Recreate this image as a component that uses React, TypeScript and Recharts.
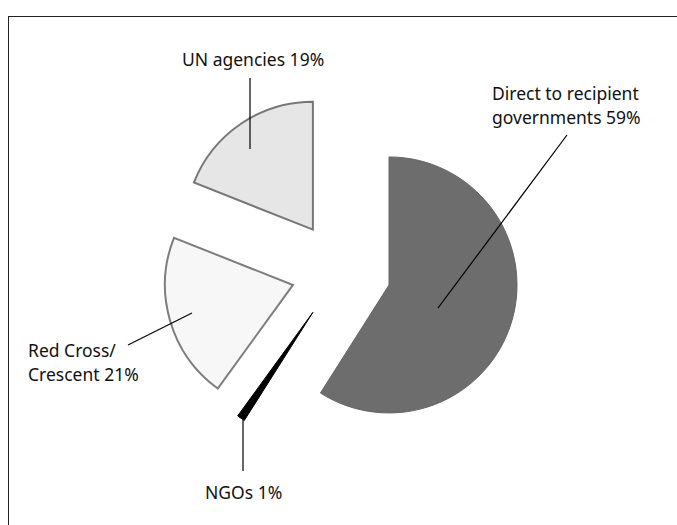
import React from "react"
import { PieChart, Pie, Cell, Sector } from "recharts"

// share of funding by channel, clockwise from 12 o'clock
const categories = ["Direct to recipient governments", "NGOs", "Red Cross/Crescent", "UN agencies"]
const shares = [59, 1, 21, 19]
const labelText = [
  ["Direct to recipient", "governments 59%"],
  ["NGOs 1%"],
  ["Red Cross/", "Crescent 21%"],
  ["UN agencies 19%"],
]
const fills = ["#6d6d6d", "#000000", "#f7f7f7", "#e6e6e6"]
const strokes = ["#666666", "#000000", "#7d7d7d", "#777777"]

const data = categories.map((name, i) => ({ name, value: shares[i] }))

// where each annotation sits, and its leader line (x1, y1, x2, y2)
const labelLayout: Record<string, { x: number; y: number; line: number[] }> = {
  "Direct to recipient governments": { x: 492, y: 100, line: [567, 135, 438, 308] },
  NGOs: { x: 205, y: 499, line: [243, 420, 243, 471] },
  "Red Cross/Crescent": { x: 28, y: 357, line: [128, 345, 192, 313] },
  "UN agencies": { x: 182, y: 66, line: [250, 78, 250, 149] },
}

const RADIAN = Math.PI / 180
const EXPLODE = 50
const FONT = "'Noto Sans', sans-serif"

function ExplodedSector(props: any) {
  const { cx, cy, midAngle } = props
  const dx = EXPLODE * Math.cos(-midAngle * RADIAN)
  const dy = EXPLODE * Math.sin(-midAngle * RADIAN)
  return <Sector {...props} cx={cx + dx} cy={cy + dy} />
}

function SliceLabel(props: any) {
  const idx = props.index ?? 0
  const name = props.name ?? props.payload?.name ?? categories[idx]
  const lay = labelLayout[name]
  if (!lay) return null
  const lines = labelText[categories.indexOf(name)]
  const [x1, y1, x2, y2] = lay.line
  return (
    <g>
      <line x1={x1} y1={y1} x2={x2} y2={y2} stroke="#000" strokeWidth={1.2} />
      <text x={lay.x} y={lay.y} fill="#111" fontFamily={FONT} fontSize={17.5} textAnchor="start">
        {lines.map((l, i) => (
          <tspan key={i} x={lay.x} dy={i === 0 ? 0 : 24}>
            {l}
          </tspan>
        ))}
      </text>
    </g>
  )
}

export default function App() {
  return (
    <div style={{ position: "absolute", left: 0, top: 0, width: 677, height: 525, overflow: "hidden", background: "#fff" }}>
      <div
        style={{
          position: "absolute",
          left: 8,
          top: 16,
          width: 720,
          height: 600,
          borderTop: "1.5px solid #222",
          borderLeft: "1.5px solid #222",
        }}
      />
      <div style={{ position: "absolute", left: 0, top: 0 }}>
        <PieChart width={677} height={525} margin={{ top: 0, right: 0, bottom: 0, left: 0 }}>
          <Pie
            data={data}
            dataKey="value"
            nameKey="name"
            cx={341}
            cy={271}
            outerRadius={128}
            startAngle={90}
            endAngle={-270}
            shape={ExplodedSector}
            activeShape={ExplodedSector}
            inactiveShape={ExplodedSector}
            label={SliceLabel}
            labelLine={false}
            isAnimationActive={false}
          >
            {data.map((d, i) => (
              <Cell key={d.name} fill={fills[i]} stroke={strokes[i]} strokeWidth={i === 0 || i === 1 ? 1 : 2} />
            ))}
          </Pie>
        </PieChart>
      </div>
    </div>
  )
}
